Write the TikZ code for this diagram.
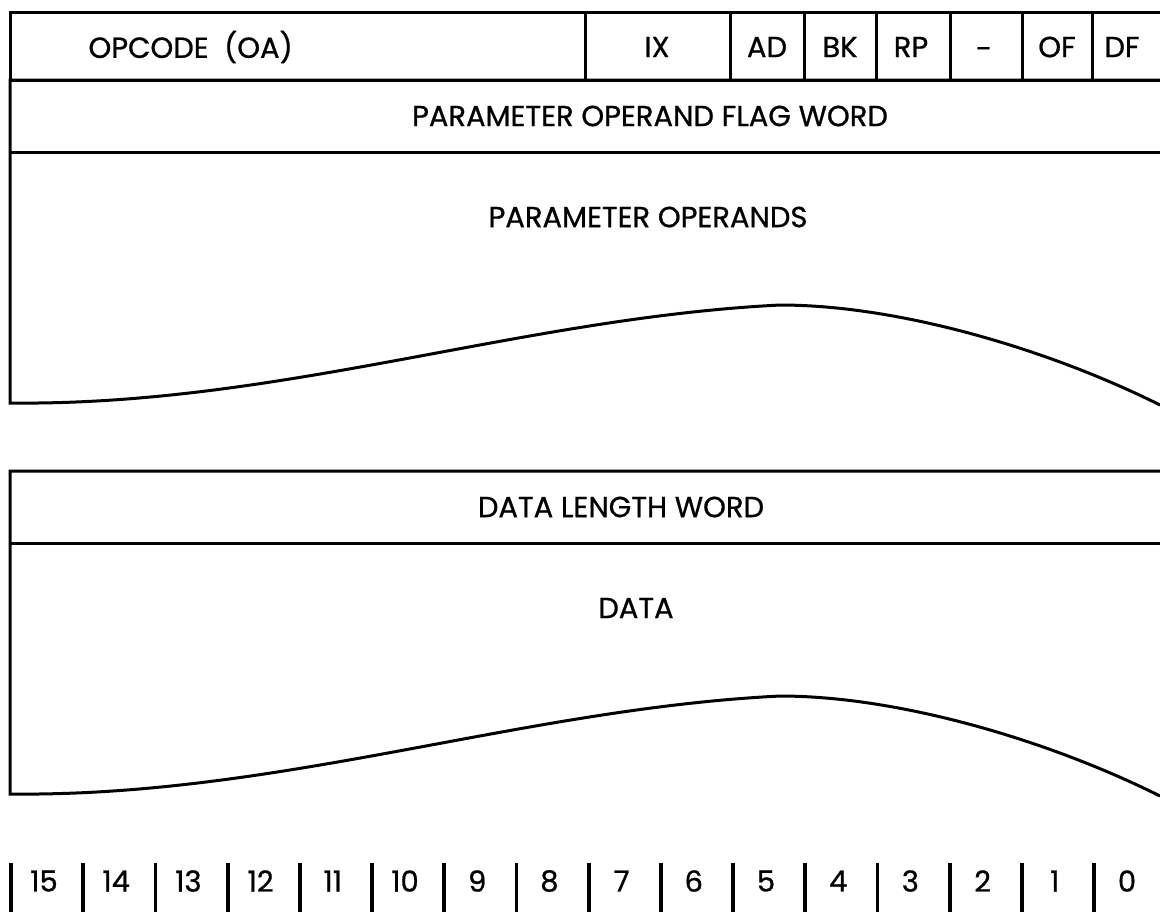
\documentclass[tikz,border=0pt]{standalone}
\usepackage{fontspec}
\setmainfont{Poppins}[FakeBold=0.8]
\usetikzlibrary{positioning}

\begin{document}
\begin{tikzpicture}[x=0.5pt,y=-0.5pt,line width=1.5pt,
  lbl/.style={font=\fontsize{14.5}{16}\selectfont,inner sep=0pt}]
\useasboundingbox (0,0) rectangle (1160,912);
% first word: opcode and flags
\draw (1160,12) -- (10,12) -- (10,80) -- (1160,80);
\foreach \x in {585,730,804,876,950,1022,1092} \draw (\x,12) -- (\x,80);
\node[lbl,anchor=west] (opcode) at (87,47) {OPCODE\ \ (OA)};
\foreach \name/\txt/\x/\y in {ix/IX/657/47,ad/AD/767/47,bk/BK/840/47,rp/RP/911/47,spare/-/984/53,of/OF/1057/47,df/DF/1122/47}
  \node[lbl] (\name) at (\x,\y) {\txt};
% flag word and data length word, each followed by a wavy block
\foreach \dy/\tag/\head/\hx/\body/\bx in {0/par/PARAMETER OPERAND FLAG WORD/650/PARAMETER OPERANDS/648,
                                         391/dat/DATA LENGTH WORD/621/DATA/636}{
  \begin{scope}[shift={(0,\dy)}]
    \draw (1160,80) -- (10,80) -- (10,403)
      .. controls (280,406) and (520,318) .. (780,305)
      .. controls (900,305) and (1050,350) .. (1160,405);
    \draw (10,152) -- (1160,152);
    \node[lbl] (\tag head) at (\hx,116) {\head};
    \node[lbl] (\tag body) at (\bx,217) {\body};
  \end{scope}
}
% bit numbers
\foreach \b [count=\i from 0] in {15,14,...,0}{
  \draw[line width=1.9pt] (11+72.2*\i,863) -- (11+72.2*\i,912);
  \node[lbl] (bit\b) at (44+72.2*\i,881) {\b};
}
\end{tikzpicture}
\end{document}
